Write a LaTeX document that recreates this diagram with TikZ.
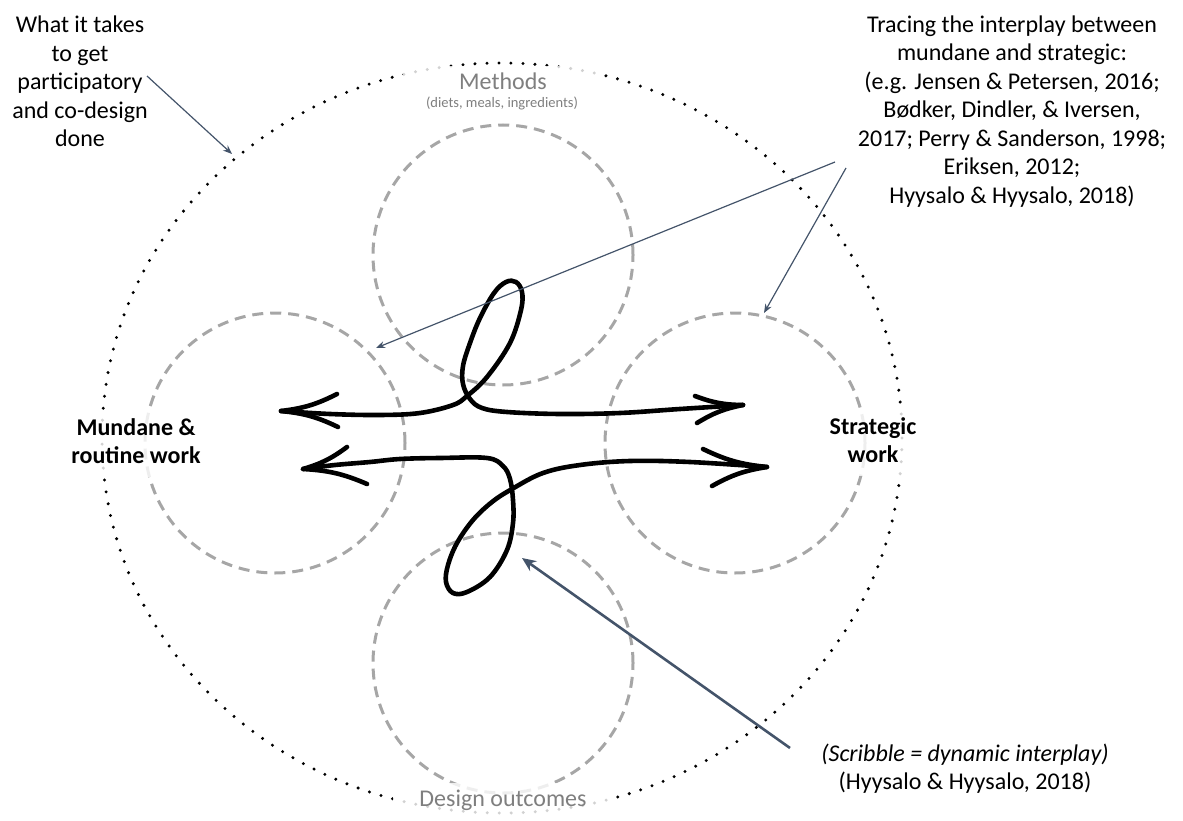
\documentclass[tikz,border=0pt]{standalone}
\usepackage{fontspec}
\setmainfont{Carlito}
\usepackage{tikz}
\usetikzlibrary{arrows.meta}
\definecolor{slate}{HTML}{44546A}
\definecolor{ringgray}{HTML}{A6A6A6}
\definecolor{labelgray}{HTML}{7F7F7F}

\begin{document}
\begin{tikzpicture}[x=1pt, y=-1pt,
    ring/.style={draw=ringgray, line width=3pt, dash pattern=on 11pt off 7pt},
    outer/.style={draw=black, line width=3.3pt, line cap=round, dash pattern=on 0pt off 12pt},
    label/.style={fill=white, fill opacity=0.82, text opacity=1, inner sep=4pt, font=\fontsize{24}{28.5}\selectfont},
    scribble/.style={line width=4.6pt, line cap=round, line join=round},
    pointer/.style={draw=slate, line width=1.2pt, -{Stealth[length=9pt, width=7pt]}},
    bigpointer/.style={draw=slate, line width=2.6pt, -{Stealth[length=14pt, width=12pt]}}]
\useasboundingbox (0,0) rectangle (1183,821);

\draw[outer] (502,438) ellipse [x radius=400pt, y radius=375pt];
\draw[ring] (503,255) circle [radius=130pt];
\draw[ring] (275,443) circle [radius=130pt];
\draw[ring] (735,443) circle [radius=130pt];
\draw[ring] (503,663) circle [radius=130pt];

\node[label, text=labelgray, minimum width=200pt, inner ysep=7pt] (methods) at (503,81) {Methods};
\node[label, text=labelgray, font=\fontsize{14.5}{17}\selectfont, minimum width=200pt, inner sep=1pt] (methodsnote) at (502,103) {(diets, meals, ingredients)};
\node[label, text=labelgray, minimum width=220pt, inner ysep=7pt] (outcomes) at (503,800) {Design outcomes};
\node[label, font=\fontsize{24}{28.5}\selectfont\bfseries] (mundane) at (136,444) {
    \begin{tabular}{c}
        Mundane \&\\
        routine work
    \end{tabular}
};
\node[label, font=\fontsize{24}{28.5}\selectfont\bfseries] (strategic) at (873,443) {
    \begin{tabular}{c}
        Strategic\\
        work
    \end{tabular}
};
\node[label] (whatit) at (80,84) {
    \begin{tabular}{c}
        What it takes\\
        to get\\
        participatory\\
        and co-design\\
        done
    \end{tabular}
};
\node[label] (tracing) at (1012,112) {
    \begin{tabular}{c}
        Tracing the interplay between\\
        mundane and strategic:\\
        (e.g. Jensen \& Petersen, 2016;\\
        Bødker, Dindler, \& Iversen,\\
        2017; Perry \& Sanderson, 1998;\\
        Eriksen, 2012;\\
        Hyysalo \& Hyysalo, 2018)
    \end{tabular}
};
\node[label] (scribblenote) at (965,770) {
    \begin{tabular}{c}
        \textit{(Scribble = dynamic interplay)}\\
        (Hyysalo \& Hyysalo, 2018)
    \end{tabular}
};

\coordinate (tl-tip) at (281,411);
\coordinate (tr-tip) at (743,405);
\coordinate (bl-tip) at (303,469);
\coordinate (br-tip) at (767,467);
\draw[scribble] plot[smooth, tension=0.6] coordinates {(281,411) (330,414) (380,415) (420,413) (453,405) (467,396) (487,377) (510,343) (521,310) (522,292) (516,282) (506,282) (494,293) (480,318) (470,343) (463,366) (463,384) (470,399) (482,408) (507,412) (560,414) (620,413) (680,409) (743,405)};
\draw[scribble] plot[smooth, tension=0.6] coordinates {(303,469) (335,465) (370,462) (400,459) (440,458) (487,458) (503,466) (510,479) (513,500) (513,523) (507,550) (490,577) (467,592) (453,593) (446,582) (448,565) (457,543) (473,520) (492,502) (512,489) (543,473) (580,465) (630,461) (690,462) (767,467)};
\draw[scribble] (337,394) to[bend left=10] (tl-tip) to[bend left=10] (338,427);
\draw[scribble] (695,396) to[bend right=10] (tr-tip) to[bend right=10] (697,423);
\draw[scribble] (347,447) to[bend left=10] (bl-tip) to[bend left=10] (367,484);
\draw[scribble] (703,449) to[bend right=10] (br-tip) to[bend right=10] (712,486);

\coordinate (whatit-from) at (147,76);
\coordinate (whatit-to) at (232,154);
\coordinate (tracing-from-a) at (835,162);
\coordinate (tracing-to-a) at (376,348);
\coordinate (tracing-from-b) at (846,168);
\coordinate (tracing-to-b) at (764,313);
\coordinate (scribble-from) at (790,748);
\coordinate (scribble-to) at (522,558);
\draw[pointer] (whatit-from) -- (whatit-to);
\draw[pointer] (tracing-from-a) -- (tracing-to-a);
\draw[pointer] (tracing-from-b) -- (tracing-to-b);
\draw[bigpointer] (scribble-from) -- (scribble-to);
\end{tikzpicture}
\end{document}
